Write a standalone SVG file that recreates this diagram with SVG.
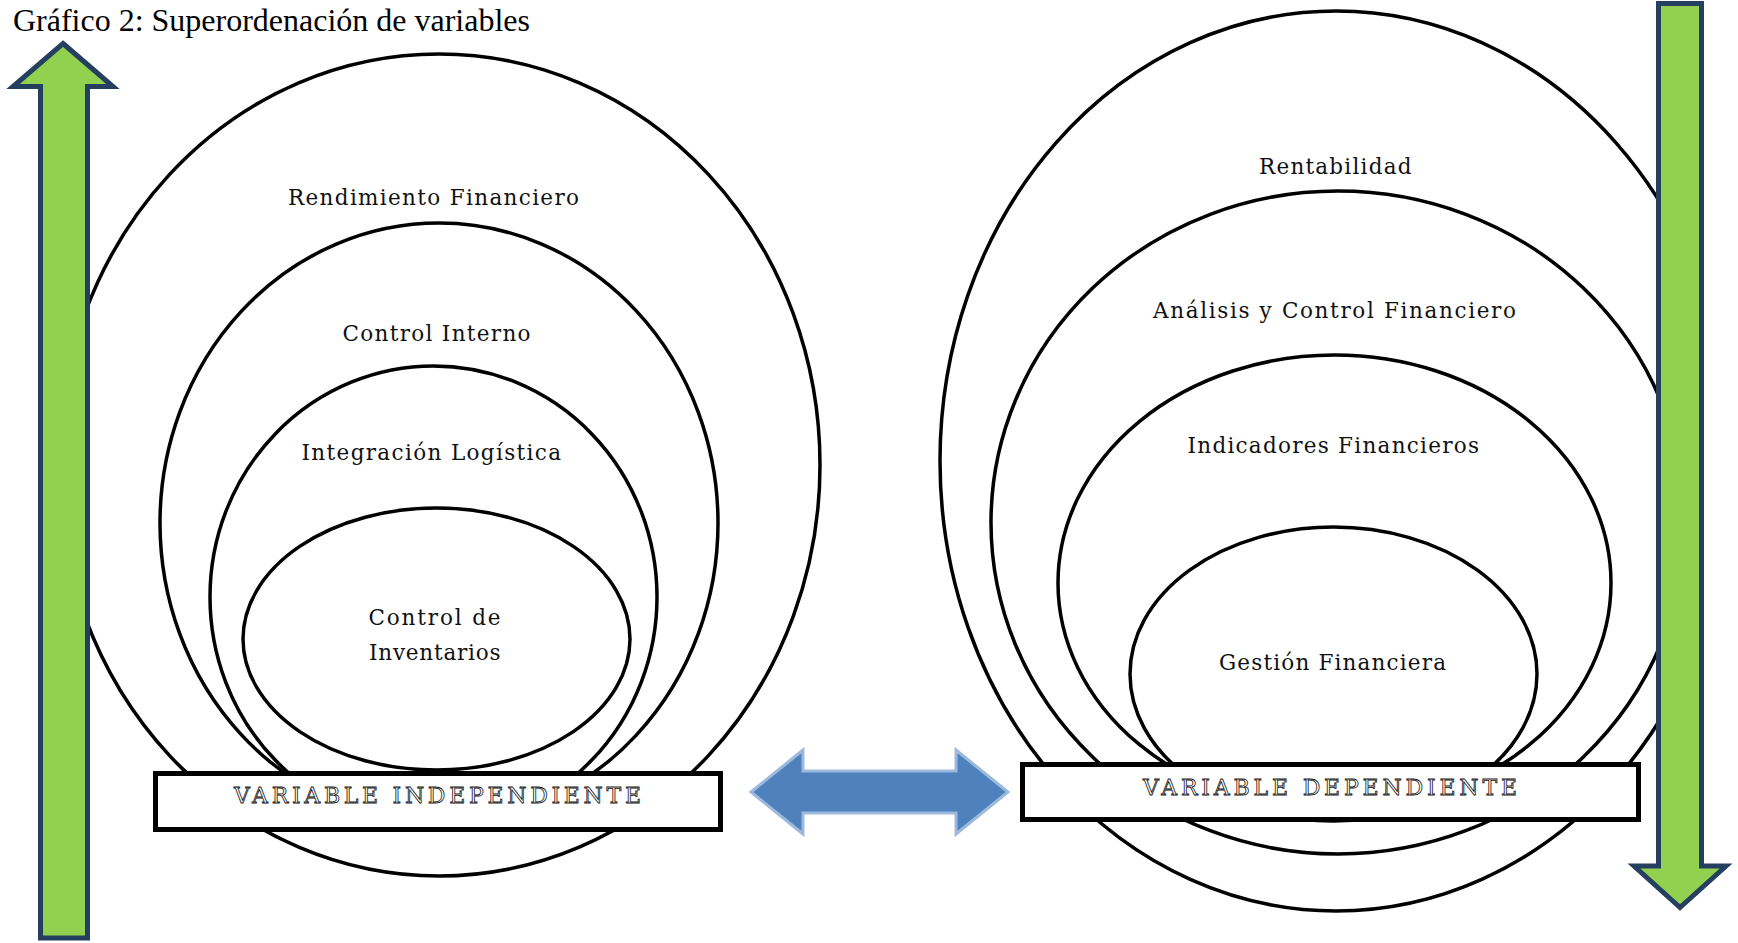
<svg xmlns="http://www.w3.org/2000/svg" width="1738" height="943" viewBox="0 0 1738 943">
<style>
.ring{fill:none;stroke:#000;stroke-width:3.5}
.lbl{font-family:"DejaVu Serif","Liberation Serif",serif;font-size:21.5px;fill:#111}
.box{fill:#fff;stroke:#000;stroke-width:5}
.btxt{font-family:"DejaVu Serif","Liberation Serif",serif;font-size:22px;fill:#fff;stroke:#111;stroke-width:0.8}
.green{fill:#92D050;stroke:#243F60;stroke-width:5}
.blue{fill:#4F81BD;stroke:#9DB9DD;stroke-width:3}
.title{font-family:"Liberation Serif","Times New Roman",serif;font-size:31px;fill:#000}
</style>
<defs>
<clipPath id="clipR"><rect x="0" y="0" width="1702" height="943"/></clipPath>
</defs>
<rect width="1738" height="943" fill="#fff"/>
<text class="title" x="13" y="31" textLength="517" lengthAdjust="spacingAndGlyphs">Gráfico 2: Superordenación de variables</text>

<g id="left-rings">
<g id="rendimiento-financiero"><ellipse class="ring" cx="439" cy="465" rx="381" ry="411"/><text class="lbl" x="288" y="205" textLength="291" lengthAdjust="spacing">Rendimiento Financiero</text></g>
<g id="control-interno"><ellipse class="ring" cx="439" cy="523" rx="279" ry="300"/><text class="lbl" x="342.5" y="341" textLength="188" lengthAdjust="spacing">Control Interno</text></g>
<g id="integracion-logistica"><ellipse class="ring" cx="433.5" cy="597" rx="223.5" ry="231"/><text class="lbl" x="301.5" y="460" textLength="259.5" lengthAdjust="spacing">Integración Logística</text></g>
<g id="control-inventarios"><ellipse class="ring" cx="436.5" cy="639" rx="193.5" ry="131"/><text class="lbl" x="368.5" y="625" textLength="132" lengthAdjust="spacing">Control de</text><text class="lbl" x="369" y="660" textLength="131.5" lengthAdjust="spacing">Inventarios</text></g>
</g>

<g id="right-rings">
<g id="rentabilidad"><ellipse class="ring" cx="1336" cy="461" rx="396" ry="450" clip-path="url(#clipR)"/><text class="lbl" x="1259" y="173.5" textLength="152.5" lengthAdjust="spacing">Rentabilidad</text></g>
<g id="analisis-control"><ellipse class="ring" cx="1338" cy="522.5" rx="347" ry="331.5"/><text class="lbl" x="1153" y="317.5" textLength="363" lengthAdjust="spacing">Análisis y Control Financiero</text></g>
<g id="indicadores-financieros"><ellipse class="ring" cx="1334.5" cy="583" rx="276.5" ry="228"/><text class="lbl" x="1187.5" y="453" textLength="291.5" lengthAdjust="spacing">Indicadores Financieros</text></g>
<g id="gestion-financiera"><ellipse class="ring" cx="1333.5" cy="674" rx="203.5" ry="147"/><text class="lbl" x="1219" y="670" textLength="227" lengthAdjust="spacing">Gestión Financiera</text></g>
</g>

<g id="variable-independiente">
<rect class="box" x="155.5" y="773.5" width="565" height="56"/>
<text class="btxt" x="234" y="803" textLength="407" lengthAdjust="spacing">VARIABLE INDEPENDIENTE</text>
</g>
<g id="variable-dependiente">
<rect class="box" x="1022.5" y="764.5" width="616" height="55"/>
<text class="btxt" x="1143" y="795" textLength="374" lengthAdjust="spacing">VARIABLE DEPENDIENTE</text>
</g>

<g id="connectors">
<polygon id="arrow-up" class="green" points="63,43.5 113,86.5 87.5,86.5 87.5,938 40.5,938 40.5,86.5 13,86.5"/>
<polygon id="arrow-down" class="green" points="1658.5,3.5 1701.5,3.5 1701.5,866 1726,866 1680,907.5 1634,866 1658.5,866"/>
<polygon id="arrow-both" class="blue" points="751,792 803,750 803,771 956,771 956,750 1008,792 956,834 956,813 803,813 803,834"/>
</g>
</svg>
